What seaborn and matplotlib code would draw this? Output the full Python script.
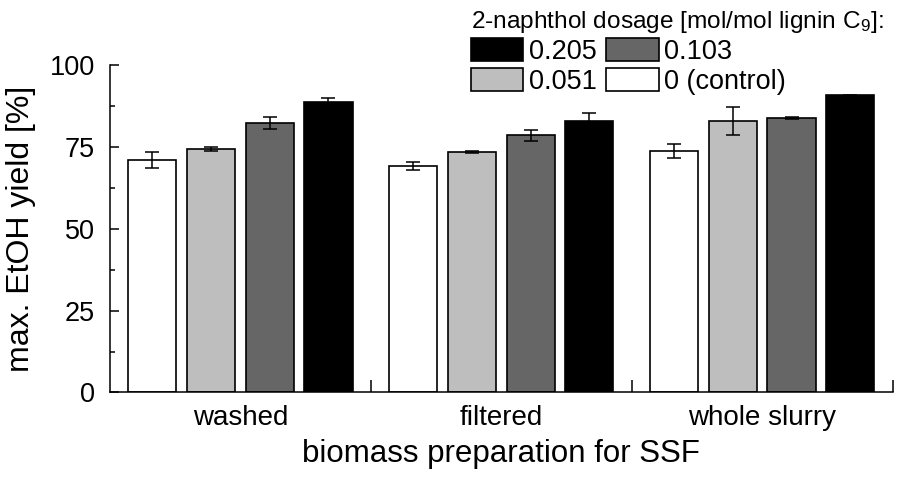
import numpy as np
import pandas as pd
import matplotlib
matplotlib.use('Agg')
import matplotlib.pyplot as plt
from matplotlib.patches import Patch
from matplotlib.ticker import MultipleLocator, FixedLocator
import seaborn as sns

# data
groups = ['washed', 'filtered', 'whole slurry']
dosages = ['0 (control)', '0.051', '0.103', '0.205']
yield_control = [70.9, 69.2, 73.7]
yield_051 = [74.4, 73.3, 82.9]
yield_103 = [82.3, 78.6, 83.8]
yield_205 = [88.6, 82.8, 90.7]
err_control = [2.4, 1.3, 2.2]
err_051 = [0.6, 0.3, 4.4]
err_103 = [1.7, 1.7, 0.3]
err_205 = [1.3, 2.5, 0.2]

colors = ['#ffffff', '#bebebe', '#666666', '#000000']

sns.set_style('ticks', {'axes.edgecolor': 'black', 'text.color': 'black',
                        'xtick.color': 'black', 'ytick.color': 'black',
                        'axes.labelcolor': 'black'})
plt.rcParams['font.family'] = ['Liberation Sans', 'DejaVu Sans']
plt.rcParams['mathtext.fontset'] = 'custom'
plt.rcParams['mathtext.rm'] = 'Liberation Sans'
plt.rcParams['mathtext.default'] = 'regular'

values = [yield_control, yield_051, yield_103, yield_205]
errors = [err_control, err_051, err_103, err_205]
rows = []
for d, vals, errs in zip(dosages, values, errors):
    for g, v, e in zip(groups, vals, errs):
        rows.append({'group': g, 'dosage': d, 'yield': v, 'err': e})
df = pd.DataFrame(rows)

fig = plt.figure(figsize=(8.98, 4.78), dpi=100)
ax = fig.add_axes([0.1225, 0.179, 0.8715, 0.685])

sns.barplot(data=df, x='group', y='yield', hue='dosage', order=groups,
            hue_order=dosages, palette=colors, width=0.9, gap=0.18,
            edgecolor='black', linewidth=1.2, errorbar=None, legend=False, ax=ax)

# error bars on the bar centres
for cont, d in zip(ax.containers, dosages):
    sub = df[df['dosage'] == d].set_index('group').loc[groups]
    xs = [b.get_x() + b.get_width() / 2 for b in cont.patches]
    ax.errorbar(xs, sub['yield'], yerr=sub['err'], fmt='none', ecolor='black',
                elinewidth=1.1, capsize=4.7, capthick=1.1, zorder=5)

ax.set_xlim(-0.5, 2.5)
ax.set_ylim(0, 100)
ax.yaxis.set_major_locator(MultipleLocator(25))
ax.yaxis.set_minor_locator(MultipleLocator(12.5))
ax.xaxis.set_minor_locator(FixedLocator([0.5, 1.5, 2.5]))
ax.tick_params(axis='y', which='major', direction='in', length=6.5, width=1.1,
               labelsize=19.5, pad=11)
ax.tick_params(axis='y', which='minor', direction='in', length=3.5, width=1.1)
ax.tick_params(axis='x', which='major', length=0, labelsize=20, pad=9)
ax.tick_params(axis='x', which='minor', direction='in', length=8.5, width=1.1)
sns.despine(ax=ax)
for s in ['left', 'bottom']:
    ax.spines[s].set_linewidth(1.1)

ax.set_xlabel('biomass preparation for SSF', fontsize=22.5, labelpad=6)
ax.set_ylabel('max. EtOH yield [%]', fontsize=23, labelpad=10)

handle_map = {d: Patch(facecolor=c, edgecolor='black', linewidth=1.2)
              for d, c in zip(dosages, colors)}
leg_order = ['0.205', '0.051', '0.103', '0 (control)']
leg = fig.legend([handle_map[d] for d in leg_order], leg_order, ncol=2,
                 loc='upper left', bbox_to_anchor=(0.503, 1.02), frameon=False,
                 fontsize=19.5, title='2-naphthol dosage [mol/mol lignin C$_9$]:',
                 title_fontsize=17.6, alignment='left', handlelength=1.95,
                 handleheight=0.95, handletextpad=0.2, columnspacing=0.35,
                 labelspacing=0.1, borderpad=0.2)

fig.savefig('out.png', dpi=100)
